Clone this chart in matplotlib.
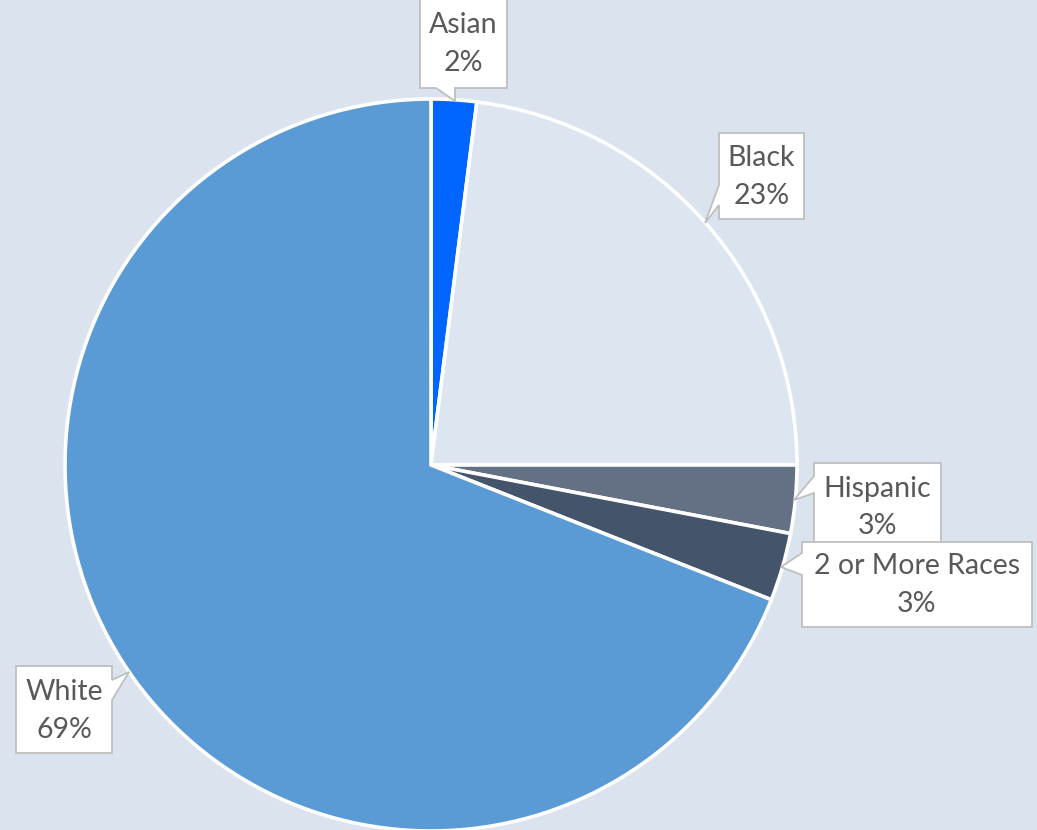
import matplotlib.pyplot as plt
from matplotlib.patches import Polygon

# employee share by race, clockwise from 12 o'clock
races = ['Asian', 'Black', 'Hispanic', '2 or More Races', 'White']
shares = [2, 23, 3, 3, 69]
slice_colors = ['#0066FF', '#DCE5F0', '#647083', '#44546A', '#5B9BD5']

W, H = 1037, 830
BG = '#DAE3EE'
TXT = '#595959'

plt.rcParams['font.family'] = ['Lato', 'DejaVu Sans']

fig = plt.figure(figsize=(W / 100, H / 100), dpi=100, facecolor=BG)
ax = fig.add_axes([0, 0, 1, 1])
ax.set_facecolor(BG)

cx, cy, r = 431, 465, 366
ax.pie(shares, colors=slice_colors, startangle=90, counterclock=False,
       center=(cx, H - cy), radius=r,
       wedgeprops=dict(edgecolor='white', linewidth=2.6))

ax.set_xlim(0, W)
ax.set_ylim(0, H)
ax.set_aspect('equal')
ax.axis('off')

# callout boxes: (x0, y0, x1, y1) in screen px, pointer side, base span, tip
callouts = {
    'Asian': ((420, -2, 507, 88), 'bottom', (436, 455), (455, 101)),
    'Black': ((719, 133, 804, 219), 'left', (185, 205), (705, 223)),
    'Hispanic': ((814, 463, 941, 550), 'left', (476, 493), (794, 500)),
    '2 or More Races': ((802, 542, 1032, 627), 'left', (553, 575), (781, 567)),
    'White': ((16, 666, 112, 753), 'right', (680, 700), (129, 672)),
}


def outline(box, side, base, tip):
    x0, y0, x1, y1 = box
    b0, b1 = base
    pts = [(x0, y0), (x1, y0)]
    if side == 'right':
        pts += [(x1, b0), tip, (x1, b1)]
    pts += [(x1, y1)]
    if side == 'bottom':
        pts += [(b1, y1), tip, (b0, y1)]
    pts += [(x0, y1)]
    if side == 'left':
        pts += [(x0, b1), tip, (x0, b0)]
    return [(x, H - y) for x, y in pts]


for race, share in zip(races, shares):
    box, side, base, tip = callouts[race]
    ax.add_patch(Polygon(outline(box, side, base, tip), closed=True,
                         facecolor='white', edgecolor='#BFBFBF',
                         linewidth=1.3, zorder=5))
    mx = (box[0] + box[2]) / 2
    my = (box[1] + box[3]) / 2
    ax.text(mx, H - (my - 18), race, ha='center', va='center',
            fontsize=20.5, color=TXT, zorder=6)
    ax.text(mx, H - (my + 20), f'{share}%', ha='center', va='center',
            fontsize=20.5, color=TXT, zorder=6)

fig.savefig('out.png', dpi=100, facecolor=BG)
